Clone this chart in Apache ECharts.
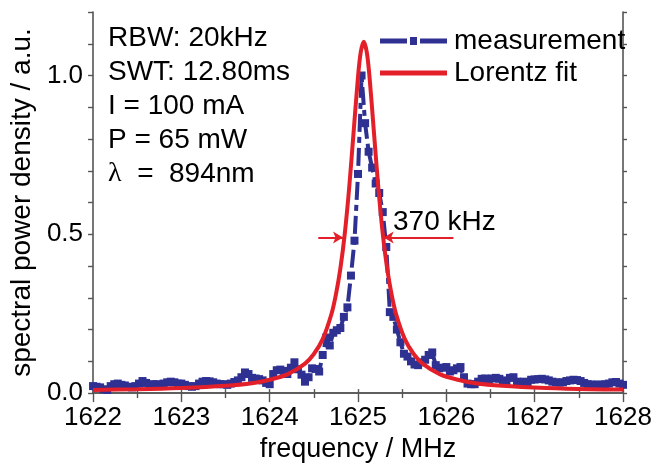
<!DOCTYPE html>
<html>
<head>
<meta charset="utf-8">
<script src="https://cdn.jsdelivr.net/npm/echarts@6/dist/echarts.min.js"></script>
<style>
  html, body { margin: 0; padding: 0; background: #fff; }
  #chart { width: 658px; height: 468px; }
</style>
</head>
<body>
<div id="chart"></div>
<script>
// Measured beat spectrum: [frequency in MHz, normalised spectral power density]
const measurement = [
  [1622.00,0.022],[1622.04,0.020],[1622.08,0.018],[1622.12,0.012],[1622.16,0.010],
  [1622.20,0.022],[1622.24,0.028],[1622.28,0.030],[1622.32,0.026],[1622.36,0.024],
  [1622.40,0.020],[1622.44,0.018],[1622.48,0.022],[1622.52,0.030],[1622.56,0.038],
  [1622.60,0.032],[1622.64,0.026],[1622.68,0.028],[1622.72,0.028],[1622.76,0.026],
  [1622.80,0.030],[1622.84,0.034],[1622.88,0.036],[1622.92,0.034],[1622.96,0.030],
  [1623.00,0.030],[1623.04,0.026],[1623.08,0.022],[1623.12,0.020],[1623.16,0.022],
  [1623.20,0.030],[1623.24,0.036],[1623.28,0.038],[1623.32,0.037],[1623.36,0.034],
  [1623.40,0.030],[1623.44,0.028],[1623.48,0.028],[1623.52,0.026],[1623.56,0.030],
  [1623.60,0.035],[1623.64,0.040],[1623.68,0.050],[1623.72,0.065],[1623.76,0.060],
  [1623.80,0.048],[1623.84,0.046],[1623.88,0.044],[1623.92,0.040],[1623.96,0.032],
  [1624.00,0.028],[1624.04,0.060],[1624.08,0.072],[1624.12,0.074],[1624.16,0.070],
  [1624.20,0.060],[1624.24,0.080],[1624.28,0.097],[1624.32,0.075],[1624.36,0.058],
  [1624.40,0.036],[1624.44,0.050],[1624.48,0.078],[1624.52,0.076],[1624.56,0.068],
  [1624.60,0.120],[1624.64,0.175],[1624.68,0.150],[1624.72,0.190],[1624.76,0.198],
  [1624.80,0.205],[1624.84,0.240],[1624.88,0.270],[1624.92,0.370],[1624.96,0.480],
  [1625.00,0.690],[1625.04,1.000],[1625.08,0.850],[1625.12,0.760],[1625.16,0.710],
  [1625.20,0.660],[1625.24,0.630],[1625.28,0.570],[1625.32,0.460],[1625.36,0.255],
  [1625.40,0.240],[1625.44,0.200],[1625.48,0.160],[1625.52,0.124],[1625.56,0.115],
  [1625.60,0.100],[1625.64,0.090],[1625.68,0.088],[1625.72,0.097],[1625.76,0.105],
  [1625.80,0.120],[1625.84,0.128],[1625.88,0.088],[1625.92,0.078],[1625.96,0.080],
  [1626.00,0.082],[1626.04,0.068],[1626.08,0.072],[1626.12,0.078],[1626.16,0.082],
  [1626.20,0.050],[1626.24,0.030],[1626.28,0.028],[1626.32,0.028],[1626.36,0.036],
  [1626.40,0.045],[1626.44,0.046],[1626.48,0.044],[1626.52,0.046],[1626.56,0.048],
  [1626.60,0.045],[1626.64,0.040],[1626.68,0.035],[1626.72,0.048],[1626.76,0.050],
  [1626.80,0.036],[1626.84,0.035],[1626.88,0.036],[1626.92,0.034],[1626.96,0.042],
  [1627.00,0.043],[1627.04,0.044],[1627.08,0.045],[1627.12,0.043],[1627.16,0.040],
  [1627.20,0.036],[1627.24,0.034],[1627.28,0.033],[1627.32,0.034],[1627.36,0.038],
  [1627.40,0.040],[1627.44,0.042],[1627.48,0.041],[1627.52,0.038],[1627.56,0.032],
  [1627.60,0.028],[1627.64,0.027],[1627.68,0.026],[1627.72,0.027],[1627.76,0.026],
  [1627.80,0.028],[1627.84,0.030],[1627.88,0.034],[1627.92,0.035],[1627.96,0.030],
  [1628.00,0.026]
];

// Lorentzian fit curve sampled along the frequency axis
const lorentzFit = [
  [1622.00,0.010],[1622.50,0.012],[1623.00,0.016],[1623.50,0.023],[1623.80,0.031],
  [1624.00,0.042],[1624.20,0.059],[1624.40,0.093],[1624.50,0.123],[1624.60,0.170],
  [1624.70,0.250],[1624.75,0.311],[1624.80,0.392],[1624.85,0.502],[1624.90,0.647],
  [1624.95,0.822],[1625.00,0.996],[1625.03,1.072],[1625.065,1.106],[1625.10,1.072],
  [1625.13,0.996],[1625.18,0.822],[1625.23,0.647],[1625.28,0.502],[1625.33,0.392],
  [1625.38,0.311],[1625.43,0.250],[1625.53,0.170],[1625.63,0.123],[1625.73,0.093],
  [1625.93,0.059],[1626.13,0.042],[1626.33,0.031],[1626.63,0.023],[1627.13,0.016],
  [1627.63,0.012],[1628.00,0.011]
];

// FWHM markers: arrow tail and tip on each side of the fitted line
const fwhmLevel = 0.49;
const fwhmLeft = [1624.55, 1624.83];
const fwhmRight = [1626.08, 1625.29];
const fwhmText = '370 kHz';

const settingsText = ['RBW: 20kHz', 'SWT: 12.80ms', 'I = 100 mA', 'P = 65 mW'];
const wavelengthText = '894nm';

const xTicks = { min: 1622, max: 1628 };
const yTicks = { min: 0, max: 1.2 };

const FONT = '"Liberation Sans", Arial, sans-serif';
const AXIS_COLOR = '#555555';
const BLUE = '#2e3192';
const RED = '#e3202a';

// Legend glyphs: dash - square - dash for the data, a plain thick bar for the fit
const ICON_MEASURE = 'path://M0,1.5 L27,1.5 L27,6.5 L0,6.5 Z M30,0 L37,0 L37,8 L30,8 Z M40,1.5 L67,1.5 L67,6.5 L40,6.5 Z';
const ICON_FIT = 'path://M0,0 L0.01,0 L0,0.01 Z M0,1.5 L67,1.5 L67,6.5 L0,6.5 Z M67,8 L66.99,8 L67,7.99 Z';

const chart = echarts.init(document.getElementById('chart'), null, { renderer: 'canvas' });

const grid = { left: 91, right: 35, top: 12, bottom: 70, containLabel: false };

const axisLineStyle = { show: true, lineStyle: { color: AXIS_COLOR, width: 1.6 } };

const option = {
  backgroundColor: '#ffffff',
  animation: false,
  grid: grid,
  textStyle: { fontFamily: FONT },
  legend: {
    orient: 'vertical',
    left: 375,
    top: 20,
    itemWidth: 67,
    itemHeight: 8,
    itemGap: 0,
    textStyle: { fontFamily: FONT, fontSize: 28, color: '#000', lineHeight: 32, padding: [0, 0, 0, 2] },
    data: [
      { name: 'measurement', icon: ICON_MEASURE },
      { name: 'Lorentz fit', icon: ICON_FIT }
    ]
  },
  xAxis: [
    {
      type: 'value', position: 'bottom',
      min: xTicks.min, max: xTicks.max, interval: 1,
      name: 'frequency / MHz', nameLocation: 'middle', nameGap: 40,
      nameTextStyle: { fontFamily: FONT, fontSize: 27, color: '#000' },
      axisLine: axisLineStyle,
      axisTick: { show: true, inside: false, length: 9, lineStyle: { color: AXIS_COLOR, width: 1.4 } },
      minorTick: { show: true, splitNumber: 2, length: 5, lineStyle: { color: AXIS_COLOR, width: 1.4 } },
      axisLabel: {
        fontFamily: FONT, fontSize: 26, color: '#000', margin: 12,
        formatter: function (v) { return String(Math.round(v)); }
      },
      splitLine: { show: false }
    },
    {
      type: 'value', position: 'top',
      min: xTicks.min, max: xTicks.max, interval: 0.5,
      axisLine: axisLineStyle,
      axisTick: { show: true, inside: false, length: 4, lineStyle: { color: AXIS_COLOR, width: 1.4 } },
      axisLabel: { show: false },
      splitLine: { show: false }
    }
  ],
  yAxis: [
    {
      type: 'value', position: 'left',
      min: yTicks.min, max: yTicks.max, interval: 0.1,
      name: 'spectral power density / a.u.', nameLocation: 'middle', nameGap: 47,
      nameTextStyle: { fontFamily: FONT, fontSize: 28, color: '#000' },
      axisLine: axisLineStyle,
      axisTick: { show: true, inside: false, length: 5, lineStyle: { color: AXIS_COLOR, width: 1.4 } },
      axisLabel: {
        fontFamily: FONT, fontSize: 26, color: '#000', margin: 10,
        formatter: function (v) {
          const r = Math.round(v * 10);
          return (r % 5 === 0 && r <= 10) ? (r / 10).toFixed(1) : '';
        }
      },
      splitLine: { show: false }
    },
    {
      type: 'value', position: 'right',
      min: yTicks.min, max: yTicks.max, interval: 0.1,
      axisLine: axisLineStyle,
      axisTick: { show: true, inside: false, length: 4, lineStyle: { color: AXIS_COLOR, width: 1.4 } },
      axisLabel: { show: false },
      splitLine: { show: false }
    }
  ],
  series: [
    {
      name: 'measurement',
      type: 'line',
      xAxisIndex: 0, yAxisIndex: 0,
      data: measurement,
      symbol: 'rect',
      symbolSize: 8,
      showAllSymbol: true,
      itemStyle: { color: BLUE },
      lineStyle: { color: BLUE, width: 4, type: [18, 5, 6, 5] },
      z: 2
    },
    {
      name: 'Lorentz fit',
      type: 'line',
      xAxisIndex: 0, yAxisIndex: 0,
      data: lorentzFit,
      smooth: 0.3,
      symbol: 'none',
      itemStyle: { color: RED },
      lineStyle: { color: RED, width: 4 },
      z: 3,
      markLine: {
        silent: true,
        symbol: ['none', 'arrow'],
        symbolSize: [9, 10],
        label: { show: false },
        lineStyle: { color: RED, width: 2, type: 'solid' },
        data: [
          [{ coord: [fwhmLeft[0], fwhmLevel] }, { coord: [fwhmLeft[1], fwhmLevel] }],
          [{ coord: [fwhmRight[0], fwhmLevel] }, { coord: [fwhmRight[1], fwhmLevel] }]
        ]
      }
    }
  ],
  graphic: [
    {
      type: 'group',
      left: 108,
      top: 24,
      children: settingsText.map(function (t, i) {
        return {
          type: 'text',
          left: 0,
          top: i * 34,
          style: { text: t, fontFamily: FONT, fontSize: 28, fill: '#000' }
        };
      }).concat([{
        type: 'text',
        left: 0,
        top: 4 * 34,
        style: {
          text: '{g|λ}  =  ' + wavelengthText,
          fontFamily: FONT, fontSize: 28, fill: '#000',
          rich: { g: { fontFamily: '"Liberation Serif", "DejaVu Serif", serif', fontSize: 28, fill: '#000' } }
        }
      }])
    },
    {
      type: 'text',
      left: 393,
      top: 208,
      style: { text: fwhmText, fontFamily: FONT, fontSize: 28, fill: '#000' }
    }
  ]
};

chart.setOption(option);
</script>
</body>
</html>
